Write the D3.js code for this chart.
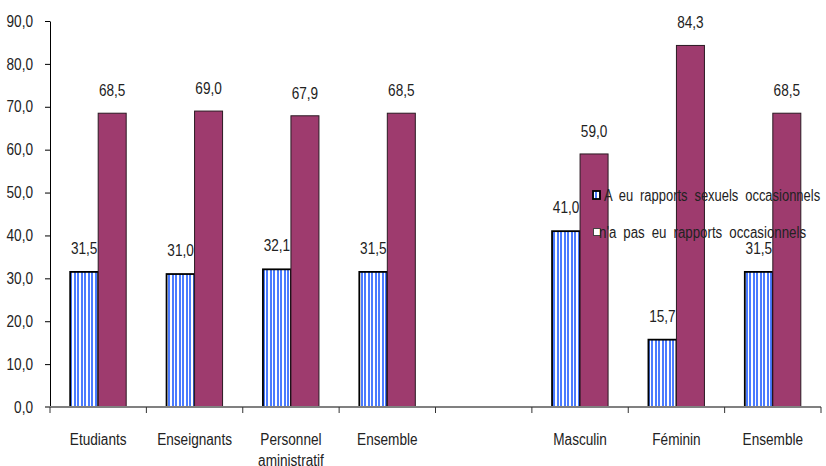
<!DOCTYPE html>
<html>
<head>
<meta charset="utf-8">
<script src="https://cdn.jsdelivr.net/npm/d3@7"></script>
<style>
  html, body { margin: 0; padding: 0; background: #fff; }
  svg { display: block; }
  text { font-family: "Liberation Sans", Arial, sans-serif; fill: #222; }
</style>
</head>
<body>
<svg id="chart" width="826" height="466"></svg>
<script>
// ---- data ----
const categories = ["Etudiants", "Enseignants", "Personnel\naministratif", "Ensemble", "", "Masculin", "Féminin", "Ensemble"];
const seriesNames = ["A eu rapports sexuels occasionnels", "n'a pas eu rapports occasionnels"];
const seriesA = [31.5, 31.0, 32.1, 31.5, null, 41.0, 15.7, 31.5];
const seriesB = [68.5, 69.0, 67.9, 68.5, null, 59.0, 84.3, 68.5];
const yTicks = [0, 10, 20, 30, 40, 50, 60, 70, 80, 90];

// ---- layout ----
const svg = d3.select("#chart");
const mLeft = 50, mRight = 821, mTop = 21, mBottom = 407;
const ids = categories.map((c, i) => i);
const x = d3.scaleBand().domain(ids).range([mLeft, mRight]).padding(0);
const y = d3.scaleLinear().domain([0, 90]).range([mBottom, mTop]);
const barW = 28;
const fmt = v => d3.format(".1f")(v).replace(".", ",");

// condense text horizontally (narrow font look)
function narrow(sel, f) {
  sel.each(function() {
    const w = this.getComputedTextLength();
    if (w > 0) d3.select(this).attr("textLength", w * f).attr("lengthAdjust", "spacingAndGlyphs");
  });
}

// pattern for striped bars
const defs = svg.append("defs");
const pat = defs.append("pattern").attr("id", "stripes")
  .attr("patternUnits", "userSpaceOnUse").attr("width", 7).attr("height", 4);
pat.append("rect").attr("width", 7).attr("height", 4).attr("fill", "#ffffff");
pat.append("rect").attr("x", 0).attr("width", 2).attr("height", 4).attr("fill", "#4b7bff");
pat.append("rect").attr("x", 4).attr("width", 2).attr("height", 4).attr("fill", "#4b7bff");

// y axis
const yAxis = d3.axisLeft(y).tickValues(yTicks).tickFormat(fmt).tickSize(5).tickSizeOuter(0);
const gy = svg.append("g").attr("transform", `translate(${mLeft},0)`).call(yAxis);
gy.select(".domain").attr("stroke", "#000").attr("stroke-width", 1);
gy.selectAll(".tick line").attr("stroke", "#000");
gy.selectAll(".tick text").attr("x", -17).style("font-size", "16px")
  .style("font-family", '"Liberation Sans", Arial, sans-serif').attr("fill", "#222")
  .call(narrow, 0.85);

// bars
const groups = svg.append("g");
ids.forEach(i => {
  const cx = x(i) + x.bandwidth() / 2;
  if (seriesA[i] != null) {
    groups.append("rect").attr("x", cx - barW).attr("y", y(seriesA[i]))
      .attr("width", barW).attr("height", y(0) - y(seriesA[i]))
      .attr("fill", "url(#stripes)").attr("stroke", "#000").attr("stroke-width", 1.8);
  }
  if (seriesB[i] != null) {
    groups.append("rect").attr("x", cx).attr("y", y(seriesB[i]))
      .attr("width", barW).attr("height", y(0) - y(seriesB[i]))
      .attr("fill", "#9e3b6e").attr("stroke", "#2a1a22").attr("stroke-width", 1);
  }
});

// x axis
const xAxis = d3.axisBottom(x).tickSize(0).tickSizeOuter(0).tickFormat(() => "");
const gx = svg.append("g").attr("transform", `translate(0,${mBottom})`).call(xAxis);
gx.select(".domain").attr("stroke", "#808080").attr("stroke-width", 2).attr("d", `M${mLeft - 5},0H${mRight}`);
// boundary ticks
const bounds = ids.map(i => x(i)).concat([mRight]);
gx.selectAll(".btick").data(bounds).enter().append("line")
  .attr("x1", d => d).attr("x2", d => d).attr("y1", 0).attr("y2", 6)
  .attr("stroke", "#333").attr("stroke-width", 1);
// category labels
gx.selectAll(".tick").each(function(d) {
  const g = d3.select(this);
  categories[d].split("\n").forEach((line, k) => {
    g.append("text").attr("text-anchor", "middle").style("font-size", "16px")
      .attr("x", 0).attr("y", 38 + k * 21).text(line).call(narrow, 0.85);
  });
});

// value labels
const labels = svg.append("g").style("font-size", "16px").attr("text-anchor", "middle");
ids.forEach(i => {
  const cx = x(i) + x.bandwidth() / 2;
  if (seriesA[i] != null)
    labels.append("text").attr("x", cx - barW / 2).attr("y", y(seriesA[i]) - 18).text(fmt(seriesA[i]));
  if (seriesB[i] != null)
    labels.append("text").attr("x", cx + barW / 2).attr("y", y(seriesB[i]) - 17).text(fmt(seriesB[i]));
});
labels.selectAll("text").call(narrow, 0.85);

// legend
const lg = svg.append("g");
lg.append("rect").attr("x", 593).attr("y", 191).attr("width", 7).attr("height", 8)
  .attr("fill", "url(#stripes)").attr("stroke", "#000").attr("stroke-width", 1.8);
lg.append("text").attr("x", 604).attr("y", 201).style("font-size", "16px").style("word-spacing", "4px")
  .text(seriesNames[0]).call(narrow, 0.81);
lg.append("rect").attr("x", 593.5).attr("y", 228.5).attr("width", 7).attr("height", 7)
  .attr("fill", "#fff").attr("stroke", "#444").attr("stroke-width", 1);
lg.append("text").attr("x", 599).attr("y", 238).style("font-size", "16px").style("word-spacing", "4px")
  .text(seriesNames[1]).call(narrow, 0.83);
</script>
</body>
</html>
